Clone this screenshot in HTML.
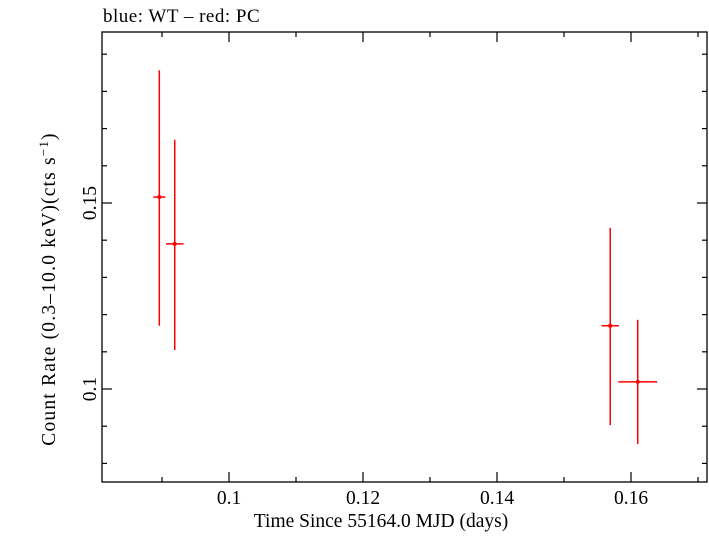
<!DOCTYPE html>
<html><head><meta charset="utf-8"><style>
html,body{margin:0;padding:0;background:#fff;}
svg text{font-family:"Liberation Serif",serif;fill:#000;}
</style></head><body>
<svg id="chart" width="709" height="532" viewBox="0 0 709 532" xmlns="http://www.w3.org/2000/svg">
<text x="103" y="22" font-size="19" letter-spacing="0.5">blue: WT – red: PC</text>
<rect x="102" y="32" width="605" height="450" fill="none" stroke="#000" stroke-width="1.3"/>
<g id="axes"></g>
<g id="marks"></g>
<text x="381" y="527" font-size="19.5" text-anchor="middle">Time Since 55164.0 MJD (days)</text>
<text transform="translate(55,289) rotate(-90)" font-size="19.5" letter-spacing="1.2" text-anchor="middle">Count Rate (0.3–10.0 keV)(cts s<tspan dy="-7" font-size="13">−1</tspan><tspan dy="7">)</tspan></text>
</svg>
<script>
const xTicks=[0.1,0.12,0.14,0.16];
const xTickLabels=["0.1","0.12","0.14","0.16"];
const yTicks=[0.1,0.15];
const yTickLabels=["0.1","0.15"];
const times=[0.0896,0.0919,0.1569,0.1610];
const timeErr=[0.0009,0.0013,0.0013,0.0029];
const rates=[0.1516,0.1390,0.1170,0.1019];
const rateHi=[0.1857,0.1670,0.1433,0.1186];
const rateLo=[0.1170,0.1105,0.0903,0.0852];
const L=102,R=707,T=32,B=482;
function xs(v){return 229+(v-0.1)*6700;}
function ys(v){return 203-(v-0.15)*3720;}
const NS="http://www.w3.org/2000/svg";
const ax=document.getElementById('axes');
function ln(p,x1,y1,x2,y2,c,w,n){const e=document.createElementNS(NS,'line');e.setAttribute('x1',x1);e.setAttribute('y1',y1);e.setAttribute('x2',x2);e.setAttribute('y2',y2);e.setAttribute('stroke',c);e.setAttribute('stroke-width',w);


p.appendChild(e);}
function tx(p,x,y,s,n,anchor,rot){const e=document.createElementNS(NS,'text');e.setAttribute('x',x);e.setAttribute('y',y);e.setAttribute('font-size','19.5');e.setAttribute('text-anchor',anchor);if(rot)e.setAttribute('transform',rot);e.textContent=s;


p.appendChild(e);}
for(let i=9;i<=17;i++){const v=i/100;const x=xs(v);const major=(i%2==0);const len=major?10:5;
ln(ax,x,B,x,B-len,'#000',1.2,'x-tick');ln(ax,x,T,x,T+len,'#000',1.2,'x-tick-top');}
xTicks.forEach((v,i)=>tx(ax,xs(v),504,xTickLabels[i],'x-tick-label','middle'));
for(let i=8;i<=19;i++){const v=i/100;const y=ys(v);if(y<T||y>B)continue;const major=(i==10||i==15);const len=major?10:5;
ln(ax,L,y,L+len,y,'#000',1.2,'y-tick');ln(ax,R,y,R-len,y,'#000',1.2,'y-tick-right');}
yTicks.forEach((v,i)=>tx(ax,96,ys(v),yTickLabels[i],'y-tick-label','middle','rotate(-90 96 '+ys(v)+')'));
const mk=document.getElementById('marks');
times.forEach((t,i)=>{
ln(mk,xs(t),ys(rateHi[i]),xs(t),ys(rateLo[i]),'#f00',1.5,'error-bar-y');
ln(mk,xs(t-timeErr[i]),ys(rates[i]),xs(t+timeErr[i]),ys(rates[i]),'#f00',1.5,'error-bar-x');
const c=document.createElementNS(NS,'circle');c.setAttribute('cx',xs(t));c.setAttribute('cy',ys(rates[i]));c.setAttribute('r',2);c.setAttribute('fill','#f00');


mk.appendChild(c);});
</script>
</body></html>
